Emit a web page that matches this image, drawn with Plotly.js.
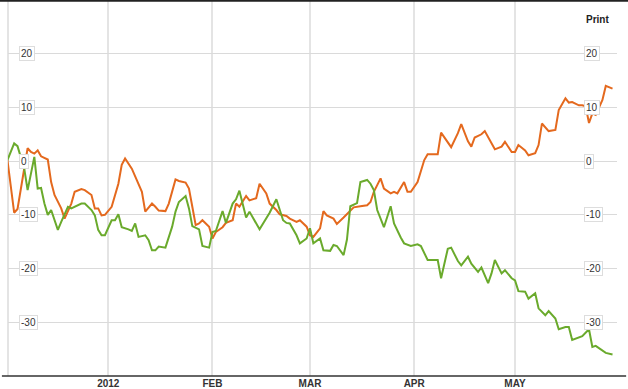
<!DOCTYPE html>
<html>
<head>
<meta charset="utf-8">
<script src="https://cdn.plot.ly/plotly-3.0.1.min.js"></script>
<style>
html,body{margin:0;padding:0;background:#fff;}
#chart{width:628px;height:389px;}
</style>
</head>
<body>
<div id="chart"></div>
<script>
const orangeDates = ["2011-12-02","2011-12-04","2011-12-05","2011-12-08","2011-12-09","2011-12-10","2011-12-11","2011-12-12","2011-12-14","2011-12-15","2011-12-16","2011-12-18","2011-12-19","2011-12-21","2011-12-22","2011-12-24","2011-12-25","2011-12-27","2011-12-28","2011-12-29","2011-12-30","2011-12-31",
"2012-01-02","2012-01-04","2012-01-05","2012-01-06","2012-01-08","2012-01-09","2012-01-11","2012-01-12","2012-01-14","2012-01-15","2012-01-16","2012-01-18","2012-01-19","2012-01-21","2012-01-22","2012-01-24","2012-01-25","2012-01-26","2012-01-27","2012-01-28","2012-01-29","2012-01-31",
"2012-02-01","2012-02-02","2012-02-04","2012-02-05","2012-02-07","2012-02-08","2012-02-09","2012-02-11","2012-02-12","2012-02-14","2012-02-15","2012-02-17","2012-02-18","2012-02-20","2012-02-21","2012-02-23","2012-02-24","2012-02-26","2012-02-27","2012-02-29",
"2012-03-01","2012-03-02","2012-03-04","2012-03-05","2012-03-06","2012-03-08","2012-03-09","2012-03-11","2012-03-13","2012-03-14","2012-03-16","2012-03-18","2012-03-19","2012-03-20","2012-03-22","2012-03-23","2012-03-25","2012-03-26","2012-03-27","2012-03-29","2012-03-30","2012-03-31",
"2012-04-02","2012-04-04","2012-04-05","2012-04-08","2012-04-09","2012-04-11","2012-04-12","2012-04-14","2012-04-15","2012-04-17","2012-04-18","2012-04-19","2012-04-21","2012-04-22","2012-04-24","2012-04-25","2012-04-27","2012-04-28","2012-04-30",
"2012-05-01","2012-05-02","2012-05-04","2012-05-05","2012-05-07","2012-05-08","2012-05-09","2012-05-11","2012-05-13","2012-05-14","2012-05-16","2012-05-17","2012-05-18","2012-05-20","2012-05-21","2012-05-22","2012-05-23","2012-05-24","2012-05-25","2012-05-27","2012-05-28","2012-05-30"];
const orangeValues = [0.2,-9.6,-8.9,2.4,1.7,1.4,2.0,0.9,0.3,-3.9,-6.3,-8.8,-10.7,-7.9,-5.7,-5.2,-5.4,-6.3,-8.8,-8.8,-10.1,-10.0,
-8.5,-4.2,-0.7,0.5,-1.4,-2.9,-5.7,-9.4,-7.9,-8.5,-9.2,-9.3,-7.9,-3.4,-3.7,-4.0,-5.1,-8.5,-11.9,-11.6,-11.0,-12.2,
-14.4,-13.2,-12.3,-11.5,-11.0,-7.9,-8.5,-6.5,-7.3,-6.9,-4.2,-6.0,-7.9,-9.1,-9.9,-10.2,-10.7,-11.3,-11.0,-12.2,
-13.8,-14.1,-12.5,-9.3,-10.1,-10.7,-11.7,-10.5,-9.3,-8.6,-8.4,-8.2,-7.6,-5.7,-3.2,-5.1,-6.0,-5.7,-6.0,-3.9,-5.7,-5.7,
-3.9,0.2,1.3,1.3,5.3,3.6,2.6,5.2,6.9,3.7,2.7,4.4,5.0,5.6,3.3,2.2,2.7,3.6,1.7,
1.7,3.0,2.0,1.1,1.5,3.0,7.0,5.6,5.8,9.5,11.7,10.9,11.0,10.4,10.4,10.2,7.1,8.9,8.6,11.4,14.0,13.5];

const greenDates = ["2011-12-02","2011-12-04","2011-12-05","2011-12-07","2011-12-08","2011-12-10","2011-12-11","2011-12-12","2011-12-13","2011-12-14","2011-12-15","2011-12-17","2011-12-18","2011-12-20","2011-12-21","2011-12-22","2011-12-24","2011-12-25","2011-12-27","2011-12-28","2011-12-29","2011-12-30","2011-12-31",
"2012-01-02","2012-01-03","2012-01-04","2012-01-05","2012-01-07","2012-01-08","2012-01-09","2012-01-10","2012-01-12","2012-01-13","2012-01-14","2012-01-15","2012-01-16","2012-01-18","2012-01-20","2012-01-21","2012-01-22","2012-01-24","2012-01-25","2012-01-26","2012-01-28","2012-01-29","2012-01-31",
"2012-02-01","2012-02-02","2012-02-04","2012-02-05","2012-02-07","2012-02-08","2012-02-09","2012-02-11","2012-02-12","2012-02-15","2012-02-18","2012-02-20","2012-02-22","2012-02-23","2012-02-24","2012-02-26","2012-02-27","2012-02-29",
"2012-03-01","2012-03-02","2012-03-04","2012-03-05","2012-03-07","2012-03-08","2012-03-09","2012-03-11","2012-03-12","2012-03-13","2012-03-15","2012-03-16","2012-03-18","2012-03-19","2012-03-20","2012-03-21","2012-03-23","2012-03-25","2012-03-26","2012-03-28","2012-03-29","2012-03-31",
"2012-04-02","2012-04-03","2012-04-05","2012-04-08","2012-04-09","2012-04-11","2012-04-12","2012-04-14","2012-04-15","2012-04-17","2012-04-18","2012-04-20","2012-04-21","2012-04-23","2012-04-24","2012-04-25","2012-04-27","2012-04-28","2012-04-30",
"2012-05-01","2012-05-02","2012-05-04","2012-05-05","2012-05-07","2012-05-08","2012-05-10","2012-05-11","2012-05-13","2012-05-14","2012-05-16","2012-05-17","2012-05-18","2012-05-20","2012-05-21","2012-05-23","2012-05-24","2012-05-25","2012-05-27","2012-05-28","2012-05-30"];
const greenValues = [0.2,3.3,2.8,-1.4,-5.4,0.8,-5.1,-5.0,-7.9,-10.0,-9.1,-12.8,-11.3,-8.5,-8.8,-8.5,-7.9,-7.9,-9.1,-10.1,-12.8,-13.8,-13.8,
-11.0,-11.0,-9.9,-12.3,-12.7,-13.0,-11.6,-14.1,-13.8,-14.7,-16.6,-16.6,-15.9,-16.1,-12.2,-9.4,-7.6,-6.5,-8.8,-12.1,-12.7,-15.8,-16.1,
-13.2,-13.0,-9.3,-11.5,-7.9,-7.1,-5.5,-10.5,-9.4,-12.7,-9.6,-7.1,-11.0,-11.5,-11.6,-13.8,-15.3,-14.4,
-12.5,-15.3,-14.4,-16.6,-16.7,-15.6,-15.8,-17.5,-14.6,-8.4,-7.8,-3.9,-3.5,-4.2,-5.4,-9.1,-12.3,-8.4,-11.6,-14.2,-15.3,-15.8,
-15.5,-15.8,-18.4,-18.4,-21.8,-16.3,-16.1,-18.6,-19.4,-17.8,-19.1,-20.6,-19.8,-22.7,-20.9,-18.4,-20.9,-20.3,-21.8,
-22.2,-24.2,-24.3,-25.6,-24.6,-27.4,-28.7,-27.9,-29.3,-31.3,-30.9,-30.9,-33.3,-32.8,-32.6,-31.3,-34.6,-34.4,-35.3,-35.7,-36.0];

const monthTicks = ["2012-01-01","2012-02-01","2012-03-01","2012-04-01","2012-05-01"];
const monthLabels = ["2012","FEB","MAR","APR","MAY"];
const yTicks = [20,10,0,-10,-20,-30];
const yTickLabels = ["20","10","0","-10","-20","-30"];

const traces = [
  {x: orangeDates, y: orangeValues, type: 'scatter', mode: 'lines',
   line: {color: '#e4691e', width: 2}, hoverinfo: 'skip'},
  {x: greenDates, y: greenValues, type: 'scatter', mode: 'lines',
   line: {color: '#6aaa2c', width: 2}, hoverinfo: 'skip'}
];

const annotations = [];
yTicks.forEach((v, i) => {
  [0.018, 0.946].forEach(px => {
    annotations.push({
      xref: 'paper', yref: 'y', x: px, y: v, xanchor: 'left', yanchor: 'middle',
      text: yTickLabels[i], showarrow: false,
      font: {family: 'Arial, Liberation Sans, sans-serif', size: 10, color: '#333'},
      bgcolor: '#ffffff', bordercolor: '#dddddd', borderwidth: 1, borderpad: 1
    });
  });
});
annotations.push({
  xref: 'paper', yref: 'paper', x: 0.946, y: 0.948, xanchor: 'left', yanchor: 'middle',
  text: 'Print', showarrow: false,
  font: {family: 'Arial, Liberation Sans, sans-serif', size: 10, color: '#222', weight: 'bold'}
});

const layout = {
  width: 628, height: 389,
  margin: {l: 8, r: 11, t: 0, b: 13},
  paper_bgcolor: '#ffffff', plot_bgcolor: '#ffffff',
  showlegend: false,
  xaxis: {
    type: 'date',
    range: ['2011-12-02 04:00', '2012-05-31 08:00'],
    tickmode: 'array', tickvals: monthTicks, ticktext: monthLabels,
    showgrid: true, gridcolor: '#e4e4e4', gridwidth: 2,
    zeroline: false, showline: false, ticks: '',
    tickfont: {family: 'Arial, Liberation Sans, sans-serif', size: 10, color: '#333', weight: 'bold'},
    fixedrange: true
  },
  yaxis: {
    range: [-40, 30],
    tickmode: 'array', tickvals: yTicks,
    showticklabels: false,
    showgrid: true, gridcolor: '#dadada', gridwidth: 1,
    zeroline: false, showline: false, ticks: '',
    fixedrange: true
  },
  shapes: [
    {type: 'line', xref: 'paper', yref: 'paper', x0: 0, x1: 0, y0: 0, y1: 1,
     line: {color: '#e4e4e4', width: 2}, layer: 'below'},
    {type: 'line', xref: 'paper', yref: 'paper', x0: -0.01, x1: 1.015, y0: 0, y1: 0,
     line: {color: '#333333', width: 1.5}},
    {type: 'line', xref: 'paper', yref: 'paper', x0: -0.014, x1: 1.019, y0: 0.998, y1: 0.998,
     line: {color: '#222222', width: 2}}
  ],
  annotations: annotations
};

Plotly.newPlot('chart', traces, layout, {displayModeBar: false, staticPlot: true});
</script>
</body>
</html>
